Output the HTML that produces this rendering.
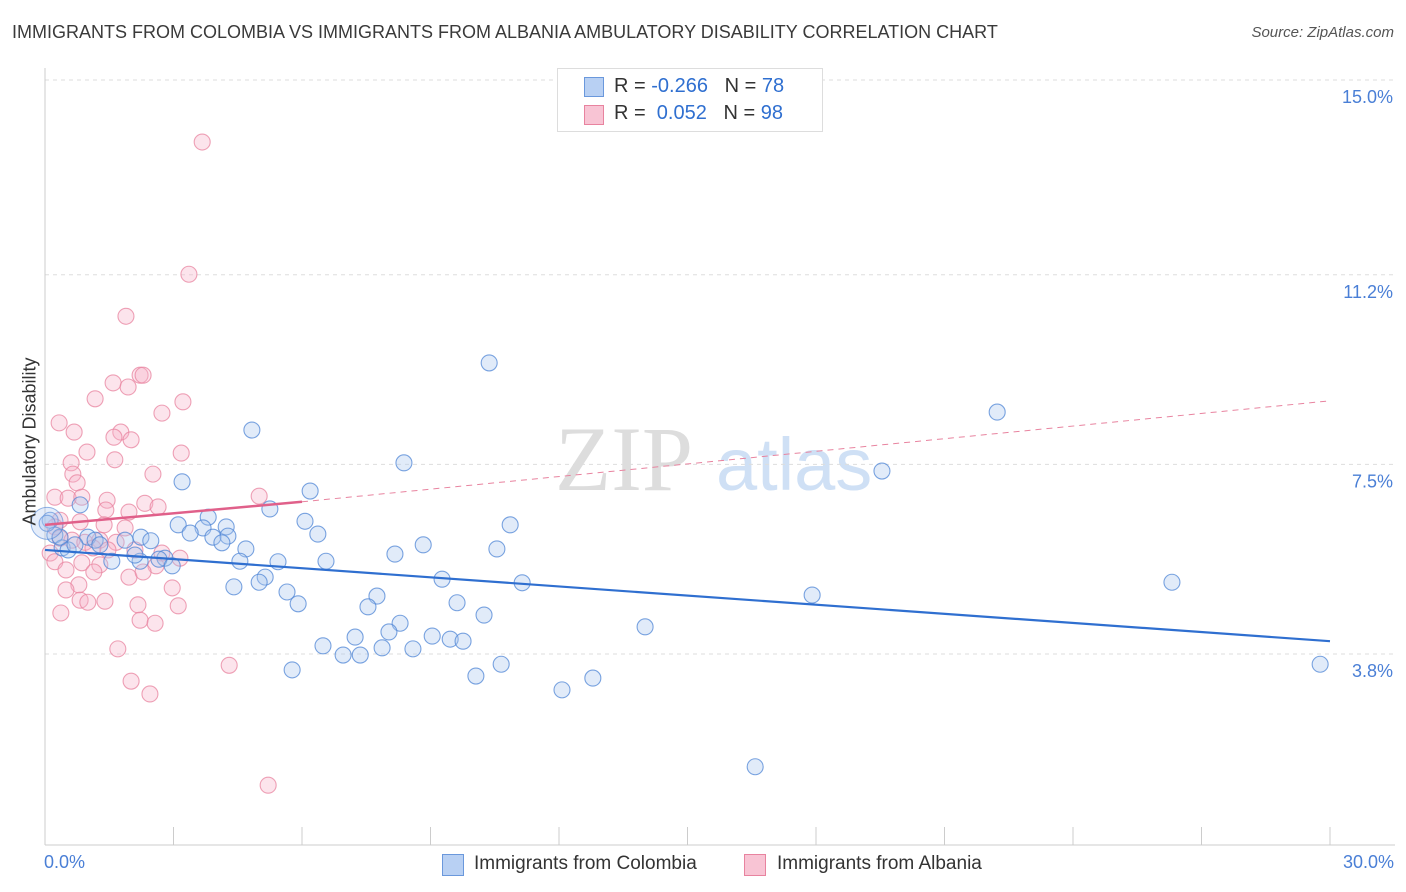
<!DOCTYPE html>
<html><head><meta charset="utf-8"><style>
body{margin:0;background:#fff;font-family:"Liberation Sans",sans-serif;}
#wrap{position:relative;width:1406px;height:892px;overflow:hidden;}
.t{position:absolute;white-space:nowrap;}
</style></head><body>
<div id="wrap">
<div class="t" style="left:12px;top:22px;font-size:18px;color:#3a3a3a;">IMMIGRANTS FROM COLOMBIA VS IMMIGRANTS FROM ALBANIA AMBULATORY DISABILITY CORRELATION CHART</div>
<div class="t" style="right:12px;top:24px;font-size:15px;color:#555;font-style:italic;">Source: ZipAtlas.com</div>
<svg id="svg" width="1406" height="892" style="position:absolute;left:0;top:0"></svg>
</div>
<script>
const xTicks=[0,3,6,9,12,15,18,21,24,27,30];
const yTicks=[15,11.2,7.5,3.8];
const yTickLabels=["15.0%","11.2%","7.5%","3.8%"];
const colX=[10.37,22.23,19.54,4.83,8.38,3.20,6.19,5.25,3.81,6.07,10.86,3.11,4.23,3.69,3.39,6.37,4.27,3.92,2.24,2.47,8.83,4.69,4.13,10.55,8.17,6.56,5.44,4.55,2.80,2.66,2.22,1.56,2.97,9.27,5.14,5.00,4.41,11.14,26.31,5.65,7.75,17.91,9.62,5.91,7.54,10.25,8.29,14.01,8.03,9.04,7.24,9.46,9.76,6.49,7.87,8.59,6.96,7.36,5.77,10.65,29.77,10.06,12.79,12.07,16.58,0.12,0.23,0.40,0.54,0.82,1.00,1.17,1.28,0.70,0.35,1.87,2.10,0.05];
const colY=[9.48,8.52,7.37,8.17,7.53,7.16,6.98,6.63,6.47,6.39,6.32,6.32,6.28,6.26,6.16,6.14,6.10,6.08,6.08,6.01,5.93,5.85,5.97,5.85,5.75,5.61,5.60,5.61,5.67,5.65,5.61,5.61,5.52,5.26,5.30,5.20,5.11,5.19,5.20,5.01,4.93,4.95,4.80,4.78,4.72,4.56,4.40,4.33,4.23,4.15,4.13,4.09,4.05,3.96,3.92,3.90,3.78,3.78,3.49,3.60,3.60,3.37,3.33,3.10,1.60,6.41,6.12,5.87,5.83,6.71,6.08,6.02,5.93,5.93,6.08,6.02,5.73,6.35];
const albX=[3.67,3.36,1.89,2.22,1.59,1.94,1.17,3.22,2.73,0.33,0.68,1.77,1.61,2.01,0.98,3.18,1.63,0.61,2.52,0.65,0.75,5.00,0.23,0.54,0.86,1.45,2.33,2.64,1.42,1.96,0.35,0.82,1.38,1.87,0.23,0.35,0.63,0.93,1.28,1.66,1.12,1.47,2.10,0.12,2.73,3.15,0.23,0.86,1.28,2.59,0.49,1.14,1.96,2.29,0.79,2.97,0.49,0.82,1.40,1.00,3.11,2.17,0.37,2.22,2.57,1.70,4.30,2.01,2.45,5.21,2.29];
const albY=[13.79,11.21,10.39,9.24,9.09,9.01,8.78,8.72,8.50,8.31,8.13,8.13,8.03,7.98,7.74,7.72,7.59,7.53,7.31,7.31,7.14,6.88,6.86,6.84,6.86,6.80,6.74,6.67,6.61,6.57,6.41,6.38,6.32,6.26,6.28,6.06,6.02,5.98,6.02,5.98,5.87,5.83,5.83,5.77,5.77,5.67,5.60,5.58,5.54,5.52,5.44,5.40,5.30,5.40,5.15,5.09,5.05,4.85,4.83,4.81,4.74,4.76,4.60,4.46,4.40,3.90,3.58,3.27,3.02,1.24,9.24];
const colTrend=[[0,5.83],[30,4.05]];
const albTrendSolid=[[0,6.32],[6,6.77]];
const albTrendDash=[[6,6.77],[30,8.74]];
const X=v=>45+v*1285/30, Y=v=>80+(15-v)*51.25;
const svg=document.getElementById('svg');const NS='http://www.w3.org/2000/svg';
function mk(t,a,p){const e=document.createElementNS(NS,t);for(const k in a)e.setAttribute(k,a[k]);(p||svg).appendChild(e);return e;}
let wm=mk('text',{x:555,y:490,'font-size':92,'font-family':'Liberation Serif',fill:'#ddd'});wm.textContent='ZIP';

let wm2=mk('text',{x:716,y:490,'font-size':74,'font-family':'Liberation Sans',fill:'#cfe0f5'});wm2.textContent='atlas';

yTicks.forEach((v,i)=>{let g=mk('line',{x1:45,x2:1395,y1:Y(v),y2:Y(v),stroke:'#ddd','stroke-dasharray':'4,4'});

let t=mk('text',{x:1393,y:Y(v)+23,'text-anchor':'end','font-size':18,fill:'#4a7fd6','font-family':'Liberation Sans'});t.textContent=yTickLabels[i];
});
let ax=mk('line',{x1:45,x2:1395,y1:845,y2:845,stroke:'#ccc'});
let ay=mk('line',{x1:45,x2:45,y1:68,y2:845,stroke:'#ccc'});
xTicks.forEach(v=>{let l=mk('line',{x1:X(v),x2:X(v),y1:827,y2:845,stroke:'#ccc'});});
function pts(xs,ys,fill,stroke,name){xs.forEach((x,i)=>{let c=mk('circle',{cx:X(x),cy:Y(ys[i]),r:8,fill:fill,'fill-opacity':0.35,stroke:stroke,'stroke-width':1.1,'stroke-opacity':0.75});
});}
pts(albX,albY,'#f5b3c8','#e8839f','albania-point');
pts(colX,colY,'#a9c5ef','#4f86d6','colombia-point');
let c0=mk('circle',{cx:X(0.05),cy:Y(6.35),r:16,fill:'#a9c5ef','fill-opacity':0.3,stroke:'#4f86d6','stroke-opacity':0.6});
function ln(p,col,w,dash,name){let l=mk('line',{x1:X(p[0][0]),y1:Y(p[0][1]),x2:X(p[1][0]),y2:Y(p[1][1]),stroke:col,'stroke-width':w});if(dash)l.setAttribute('stroke-dasharray',dash);
}
ln(colTrend,'#2f6fd0',2.2,null,'colombia-trend-line');
ln(albTrendDash,'#e8839f',1,'6,5','albania-trend-dashed');
ln(albTrendSolid,'#e0608a',2.5,null,'albania-trend-line');
</script>
<div class="t" style="left:-40px;top:445px;transform:rotate(-90deg);font-size:18px;color:#333;width:140px;text-align:center;">Ambulatory Disability</div>
<div class="t" style="left:44px;top:852px;font-size:18px;color:#4a7fd6;">0.0%</div>
<div class="t" style="right:12px;top:852px;font-size:18px;color:#4a7fd6;">30.0%</div>
<div style="position:absolute;left:557px;top:68px;width:264px;height:62px;border:1px solid #ddd;background:#fff;font-size:20px;color:#333;">
<div style="position:absolute;left:26px;top:8px;width:18px;height:18px;background:#b8d0f3;border:1px solid #6a98dc;"></div>
<div class="t" style="left:56px;top:6px;">R = <span style="color:#2f6fd0">-0.266</span>&nbsp;&nbsp;&nbsp;N = <span style="color:#2f6fd0">78</span></div>
<div style="position:absolute;left:26px;top:36px;width:18px;height:18px;background:#f8c4d4;border:1px solid #e8839f;"></div>
<div class="t" style="left:56px;top:33px;">R = &nbsp;<span style="color:#2f6fd0">0.052</span>&nbsp;&nbsp;&nbsp;N = <span style="color:#2f6fd0">98</span></div>
</div>
<div style="position:absolute;left:442px;top:853px;font-size:19px;color:#333;">
<div style="position:absolute;left:0;top:1px;width:20px;height:20px;background:#b8d0f3;border:1px solid #6a98dc;"></div>
<div class="t" style="left:32px;top:0;">Immigrants from Colombia</div>
<div style="position:absolute;left:302px;top:1px;width:20px;height:20px;background:#f8c4d4;border:1px solid #e8839f;"></div>
<div class="t" style="left:335px;top:0;">Immigrants from Albania</div>
</div>
</body></html>
